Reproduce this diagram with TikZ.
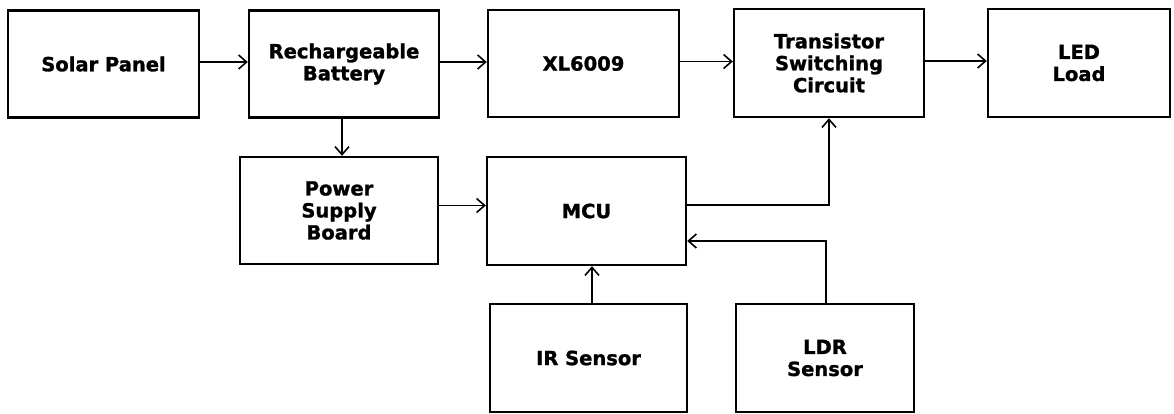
\documentclass[tikz,border=0pt]{standalone}
\usepackage{fontspec}
\setmainfont{DejaVu Sans}[BoldFeatures={FakeBold=1.3}]
\usetikzlibrary{arrows.meta}
\begin{document}
\begin{tikzpicture}[x=1pt,y=-1pt,
  blk/.style={draw=black, line width=2.4pt, fill=white, rectangle, inner sep=0pt,
    align=center, font=\fontsize{19.5}{22}\selectfont\bfseries},
  arr/.style={draw=black, line width=1.8pt, -{Straight Barb[length=8pt,width=14pt,line width=1.6pt]}},
  conn/.style={draw=black, line width=1.8pt}
]
\useasboundingbox (0,0) rectangle (1174,414);
\fill[white] (0,0) rectangle (1174,414);
% top row
\node[blk, minimum width=191pt, minimum height=107pt] (solar) at (103.5,64) {Solar Panel};
\node[blk, minimum width=190pt, minimum height=107pt] (batt) at (344,64) {Rechargeable\\Battery};
\node[blk, minimum width=191pt, minimum height=107pt] (xl) at (583.5,63.5) {XL6009};
\node[blk, minimum width=190pt, minimum height=108pt] (trans) at (829,63) {Transistor\\Switching\\Circuit};
\node[blk, minimum width=182pt, minimum height=108pt] (led) at (1079,63) {LED\\Load};
% middle row
\node[blk, minimum width=198pt, minimum height=107pt] (psb) at (339,210.5) {Power\\Supply\\Board};
\node[blk, minimum width=199pt, minimum height=108pt] (mcu) at (586.5,211) {MCU};
% bottom row
\node[blk, minimum width=197pt, minimum height=108pt] (ir) at (588.5,358) {IR Sensor};
\node[blk, minimum width=178pt, minimum height=108pt] (ldr) at (825,358) {LDR\\Sensor};
% connectors
\draw[arr] ([yshift=2pt]solar.east) -- ([yshift=2pt]solar.east -| batt.west);
\draw[arr] ([yshift=2pt]batt.east) -- ([yshift=2pt]batt.east -| xl.west);
\draw[arr] ([yshift=2pt]xl.east) -- ([yshift=2pt]xl.east -| trans.west);
\draw[arr] ([yshift=2pt]trans.east) -- ([yshift=2pt]trans.east -| led.west);
\draw[arr] ([xshift=-2pt]batt.south) -- ([xshift=-2pt]batt.south |- psb.north);
\draw[arr] ([yshift=5pt]psb.east) -- ([yshift=5pt]psb.east -| mcu.west);
\draw[arr] ([yshift=6pt]mcu.east) -| (trans.south);
\draw[arr] ([xshift=1pt]ldr.north) |- ([yshift=-30pt]mcu.east);
\draw[arr] ([xshift=3.5pt]ir.north) -- ([xshift=3.5pt]ir.north |- mcu.south);
\end{tikzpicture}
\end{document}
